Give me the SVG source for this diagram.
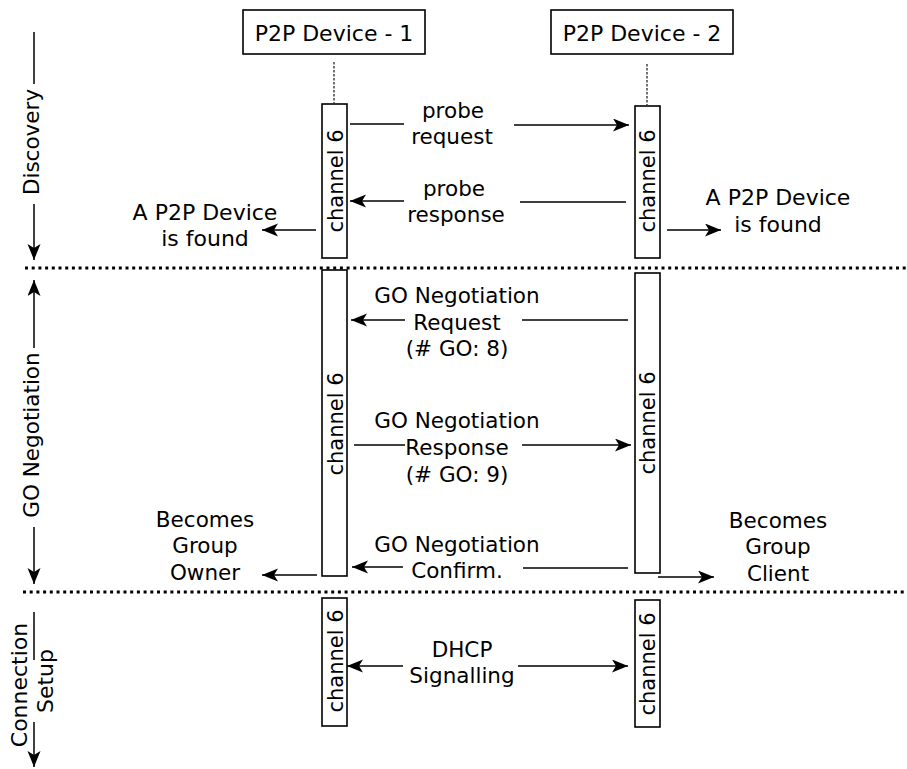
<svg xmlns="http://www.w3.org/2000/svg" width="907" height="769" viewBox="0 0 907 769">
<style>
text{font-family:"DejaVu Sans","Verdana",sans-serif;font-size:21.5px;fill:#000;text-anchor:middle}
.t22{font-size:22px}
.ch{font-size:21px}
.box{fill:#fff;stroke:#000;stroke-width:1.6}
.ln{stroke:#000;stroke-width:1.5;fill:none}
.life{stroke:#000;stroke-width:1.1;stroke-dasharray:2.5 1.5;fill:none}
.dot{stroke:#000;stroke-width:3;stroke-dasharray:3 3.7;fill:none}
</style>
<defs>
<marker id="ah" markerWidth="18" markerHeight="14" refX="16" refY="6.5" orient="auto" markerUnits="userSpaceOnUse">
<path d="M0,0 L16,6.5 L0,13 L4,6.5 z" fill="#000"/>
</marker>
</defs>
<rect width="907" height="769" fill="#fff"/>

<g id="phases">
<line class="dot" x1="25" y1="268" x2="907" y2="268"/>
<line class="dot" x1="23" y1="592" x2="905" y2="592"/>
<text transform="translate(39,142) rotate(-90)">Discovery</text>
<line class="ln" x1="34" y1="32" x2="34" y2="84"/>
<line class="ln" x1="34" y1="204" x2="34" y2="260" marker-end="url(#ah)"/>
<text transform="translate(39,435) rotate(-90)">GO Negotiation</text>
<line class="ln" x1="34" y1="348" x2="34" y2="280" marker-end="url(#ah)"/>
<line class="ln" x1="34" y1="527" x2="34" y2="584" marker-end="url(#ah)"/>
<text class="t22" transform="translate(27,685) rotate(-90)">Connection</text>
<text class="t22" transform="translate(53,681) rotate(-90)">Setup</text>
<line class="ln" x1="34" y1="612" x2="34" y2="660"/>
<line class="ln" x1="34" y1="722" x2="34" y2="767" marker-end="url(#ah)"/>
</g>

<g id="device1">
<rect class="box" x="243" y="10" width="182" height="44"/>
<text class="t22" x="334" y="41">P2P Device - 1</text>
<line class="life" x1="334" y1="62" x2="334" y2="103"/>
</g>
<g id="device2">
<rect class="box" x="551" y="10" width="182" height="44"/>
<text class="t22" x="642" y="41">P2P Device - 2</text>
<line class="life" x1="647" y1="64" x2="647" y2="105"/>
</g>

<g id="ch1-discovery">
<rect class="box" x="322" y="104" width="25" height="154"/>
<text class="ch" transform="translate(343,181) rotate(-90)">channel 6</text>
</g>
<g id="ch2-discovery">
<rect class="box" x="635" y="106" width="25" height="152"/>
<text class="ch" transform="translate(655,181) rotate(-90)">channel 6</text>
</g>
<g id="ch1-go">
<rect class="box" x="322" y="270" width="25" height="306"/>
<text class="ch" transform="translate(343,424) rotate(-90)">channel 6</text>
</g>
<g id="ch2-go">
<rect class="box" x="635" y="273" width="25" height="300"/>
<text class="ch" transform="translate(655,423) rotate(-90)">channel 6</text>
</g>
<g id="ch1-conn">
<rect class="box" x="322" y="598" width="25" height="128"/>
<text class="ch" transform="translate(343,661) rotate(-90)">channel 6</text>
</g>
<g id="ch2-conn">
<rect class="box" x="635" y="600" width="25" height="127"/>
<text class="ch" transform="translate(655,664) rotate(-90)">channel 6</text>
</g>

<g id="labels">
<text x="453" y="118">probe</text>
<text x="452" y="144">request</text>
<text x="454" y="196">probe</text>
<text x="456" y="222">response</text>
<text class="t22" x="205" y="220">A P2P Device</text>
<text class="t22" x="205" y="246">is found</text>
<text class="t22" x="778" y="205">A P2P Device</text>
<text class="t22" x="778" y="232">is found</text>
<text x="457" y="303">GO Negotiation</text>
<text x="457" y="330">Request</text>
<text x="457" y="356">(# GO: 8)</text>
<text x="457" y="428">GO Negotiation</text>
<text x="457" y="455">Response</text>
<text x="457" y="482">(# GO: 9)</text>
<text x="457" y="552">GO Negotiation</text>
<text x="457" y="578">Confirm.</text>
<text x="205" y="527">Becomes</text>
<text x="205" y="553">Group</text>
<text x="205" y="580">Owner</text>
<text x="778" y="528">Becomes</text>
<text x="778" y="554">Group</text>
<text x="778" y="581">Client</text>
<text x="462" y="657">DHCP</text>
<text x="462" y="683">Signalling</text>
</g>

<g id="connectors">
<line class="ln" x1="350" y1="124" x2="404" y2="124"/>
<line class="ln" x1="514" y1="125" x2="629" y2="125" marker-end="url(#ah)"/>
<line class="ln" x1="626" y1="202" x2="520" y2="202"/>
<line class="ln" x1="404" y1="201" x2="350" y2="201" marker-end="url(#ah)"/>
<line class="ln" x1="316" y1="230" x2="262" y2="230" marker-end="url(#ah)"/>
<line class="ln" x1="667" y1="230" x2="721" y2="230" marker-end="url(#ah)"/>
<line class="ln" x1="628" y1="320" x2="522" y2="320"/>
<line class="ln" x1="405" y1="320" x2="351" y2="320" marker-end="url(#ah)"/>
<line class="ln" x1="354" y1="445" x2="405" y2="445"/>
<line class="ln" x1="522" y1="445" x2="631" y2="445" marker-end="url(#ah)"/>
<line class="ln" x1="628" y1="568" x2="523" y2="568"/>
<line class="ln" x1="403" y1="567" x2="352" y2="567" marker-end="url(#ah)"/>
<line class="ln" x1="317" y1="575" x2="262" y2="575" marker-end="url(#ah)"/>
<line class="ln" x1="658" y1="577" x2="714" y2="577" marker-end="url(#ah)"/>
<line class="ln" x1="403" y1="666" x2="347" y2="666" marker-end="url(#ah)"/>
<line class="ln" x1="518" y1="666" x2="628" y2="666" marker-end="url(#ah)"/>
</g>
</svg>
